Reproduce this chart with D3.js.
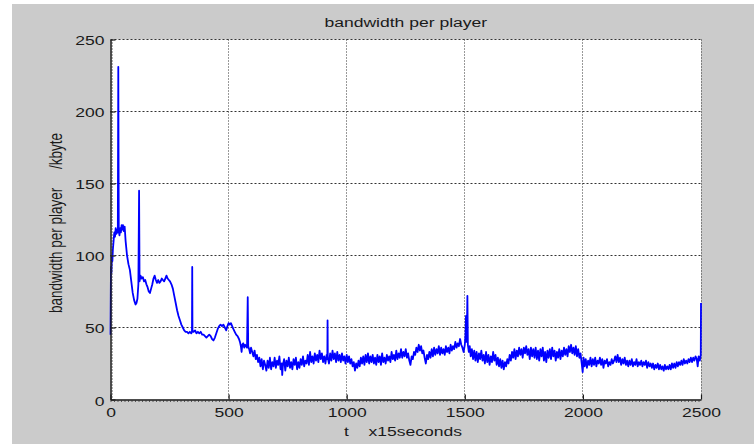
<!DOCTYPE html>
<html><head><meta charset="utf-8">
<script src="https://cdn.jsdelivr.net/npm/d3@7"></script>
<style>
body{margin:0;background:#fff}
svg{display:block}
text{font-family:"Liberation Sans",Arial,sans-serif;fill:#1a1a1a}
</style>
</head><body>
<svg id="c" width="754" height="444"></svg>
<script>
const chartTitle = "bandwidth per player";
const xLabel = "t    x15seconds";
const yLabel = "bandwidth per player     /kbyte";
const xTicks = [0, 500, 1000, 1500, 2000, 2500];
const yTicks = [0, 50, 100, 150, 200, 250];
// [time step (x15 s), bandwidth per player (kbyte)]
const series = [
[0,45],[2,92],[4,88],[6,100],[8,96],[10,104],[13,110],[16,116],[19,113],[22,119],[25,115],[28,118],[31,116],[33,231],[35,117],[38,114],[41,119],[44,116],[47,121],[50,118],[53,121],[56,117],[60,120],[64,110],[70,100],[76,94],[82,90],[88,82],[94,74],[100,69],[106,66],[110,67],[114,70],[118,80],[121,145],[123,82],[127,86],[132,84],[137,85],[142,82],[147,83],[152,80],[157,78],[162,75],[167,74],[172,77],[177,80],[182,84],[187,86],[192,83],[197,81],[202,83],[207,81],[212,82],[217,84],[222,83],[227,82],[232,84],[237,86],[242,84],[247,83],[252,82],[258,80],[264,77],[270,72],[276,67],[282,62],[288,58],[294,55],[300,52],[306,50],[312,48],[318,47],[324,47],[330,46],[336,47],[342,46],[345,47],[346,92],[347,48],[352,47],[358,48],[364,46],[370,47],[376,46],[382,47],[388,45],[394,45],[400,44],[406,43],[412,44],[418,45],[424,44],[430,42],[436,41],[442,43],[448,46],[454,49],[460,51],[466,52],[472,51],[478,52],[484,50],[490,48],[495,51],[500,53],[505,52],[510,53],[515,51],[520,49],[526,47],[532,45],[538,44],[544,42],[548,40],[552,37],[555,33],[558,38],[562,39],[566,36],[570,38],[574,37],[578,36],[581,71],[583,37],[587,35],[591,32],[595,36],
[600,33],[605,30],[610,34],[615,28],[620,31],[625,26],[630,29],[635,23],[640,28],[645,21],[650,27],[655,24],[660,20],[665,27],[670,22],[675,29],[680,21],[685,26],[690,23],[695,29],[700,22],[705,27],[710,24],[715,30],[720,21],[725,25],[727,17],[730,24],[735,28],[740,20],[745,27],[750,23],[755,29],[760,22],[765,26],[770,21],[775,28],[780,24],[785,29],[790,21],[795,26],[800,22],[805,28],[810,24],[815,30],[820,23],[825,27],[830,25],[835,31],[840,24],[845,33],[850,26],[855,30],[860,25],[865,32],[870,27],[875,31],[880,26],[885,34],[890,28],[895,32],[900,26],[905,30],[910,25],[915,31],[918,28],[919,55],[920,29],[925,25],[930,32],[935,27],[940,34],[945,28],[950,32],[955,26],[960,33],[965,27],[970,31],[975,26],[980,32],[985,27],[990,30],[995,25],[1000,31],
[1005,26],[1010,30],[1015,25],[1020,28],[1025,23],[1030,26],[1035,20],[1040,25],[1045,22],[1050,27],[1055,23],[1060,29],[1065,25],[1070,30],[1075,24],[1080,31],[1085,26],[1090,32],[1095,25],[1100,30],[1105,26],[1110,31],[1115,25],[1120,29],[1125,24],[1130,31],[1135,26],[1140,30],[1145,24],[1150,32],[1155,26],[1160,29],[1165,25],[1170,31],[1175,27],[1180,30],[1185,26],[1190,33],[1195,28],[1200,31],[1205,27],[1210,34],[1215,28],[1220,32],[1225,29],[1230,35],[1235,29],[1240,33],[1245,30],[1250,35],[1255,29],[1260,32],[1265,27],[1270,24],[1275,30],[1280,28],[1285,33],[1290,31],[1295,36],[1300,33],[1305,38],[1310,34],[1315,37],[1320,32],[1325,34],[1330,29],[1335,25],[1340,31],[1345,28],[1350,33],[1355,29],[1360,35],[1365,30],[1370,36],[1375,31],[1380,35],[1385,32],[1390,37],[1395,31],[1400,36],[1405,32],[1410,35],[1415,31],[1420,37],[1425,33],[1430,36],[1435,32],[1440,38],[1445,34],[1450,37],[1455,35],[1460,40],[1465,36],[1470,39],[1475,37],[1480,42],[1485,38],[1490,36],[1495,33],[1500,38],[1503,45],[1505,58],[1507,40],[1509,50],[1511,72],[1513,38],
[1517,33],[1521,37],[1525,30],[1530,35],[1535,28],[1540,34],[1545,27],[1550,33],[1555,26],[1560,32],[1565,28],[1570,34],[1575,27],[1580,31],[1585,25],[1590,33],[1595,26],[1600,31],[1605,24],[1610,30],[1615,26],[1620,33],[1625,27],[1630,31],[1635,24],[1640,29],[1645,23],[1650,28],[1655,22],[1660,27],[1665,21],[1670,26],[1675,23],[1680,28],[1685,25],[1690,31],[1695,27],[1700,33],[1705,29],[1710,35],[1715,28],[1720,34],[1725,30],[1730,36],[1735,31],[1740,35],[1745,29],[1750,36],[1755,32],[1760,37],[1765,31],[1770,35],[1775,28],[1780,36],[1785,30],[1790,35],[1795,29],[1800,36],[1805,28],[1810,34],[1815,27],[1820,35],[1825,30],[1830,36],[1835,27],[1840,33],[1845,26],[1850,34],[1855,29],[1860,35],[1865,28],[1870,36],[1875,30],[1880,34],[1885,27],[1890,33],[1895,29],[1900,35],[1905,28],[1910,34],[1915,30],[1920,36],[1925,31],[1930,35],[1935,30],[1940,37],[1945,33],[1950,38],[1955,32],[1960,36],[1965,31],[1970,37],[1975,30],[1980,35],[1985,29],[1990,32],[1995,25],[1999,19],
[2003,29],[2007,23],[2012,28],[2017,22],[2022,27],[2027,24],[2032,29],[2037,23],[2042,28],[2047,24],[2052,29],[2057,23],[2062,27],[2067,25],[2072,29],[2077,24],[2082,28],[2087,22],[2092,27],[2097,25],[2102,28],[2107,23],[2112,26],[2117,24],[2122,28],[2127,25],[2132,27],[2137,30],[2142,26],[2147,31],[2152,26],[2157,29],[2162,24],[2167,28],[2172,25],[2177,29],[2182,24],[2187,27],[2192,23],[2197,27],[2202,24],[2207,28],[2212,23],[2217,26],[2222,24],[2227,28],[2232,23],[2237,26],[2242,24],[2247,27],[2252,23],[2257,26],[2262,24],[2267,27],[2272,22],[2277,26],[2282,23],[2287,25],[2292,22],[2297,25],[2302,21],[2307,24],[2312,22],[2317,25],[2322,21],[2327,24],[2332,21],[2337,23],[2342,20],[2347,24],[2352,21],[2357,23],[2362,21],[2367,24],[2372,21],[2377,25],[2382,22],[2387,25],[2392,22],[2397,26],[2402,23],[2407,26],[2412,24],[2417,27],[2422,24],[2427,28],[2432,25],[2437,27],[2442,25],[2447,28],[2452,26],[2457,29],[2462,26],[2467,29],[2472,27],[2477,30],[2482,28],[2486,23],[2490,30],[2495,27],[2499,31],[2500,67]
];

const SX = 1.3; // horizontal stretch of the original picture
const svg = d3.select("#c");
const m = {l: 110.5, r: 701, t: 39.5, b: 399.5};
const x = d3.scaleLinear().domain([0, 2500]).range([m.l, m.r]);
const y = d3.scaleLinear().domain([0, 250]).range([m.b, m.t]);
const px = v => Math.floor(x(v)) + 0.5;

svg.append("rect").attr("x", 12).attr("y", 4).attr("width", 742).attr("height", 440).attr("fill", "#cbcbcb");
svg.append("rect").attr("x", m.l).attr("y", m.t).attr("width", m.r - m.l).attr("height", m.b - m.t).attr("fill", "#ffffff");

// dotted grid (including top and right box edges)
const grid = svg.append("g").attr("stroke", "#333333").attr("stroke-width", 1);
grid.selectAll("line.h").data(yTicks.filter(d => d > 0)).join("line")
  .attr("x1", m.l).attr("x2", m.r).attr("y1", d => y(d)).attr("y2", d => y(d))
  .attr("stroke-dasharray", "2,2");
grid.selectAll("line.v").data(xTicks.filter(d => d > 0)).join("line")
  .attr("y1", m.t).attr("y2", m.b).attr("x1", d => px(d)).attr("x2", d => px(d))
  .attr("stroke-dasharray", "1,2");

// data line
const line = d3.line().x(d => x(d[0])).y(d => y(d[1]));
svg.append("path").datum(series).attr("d", line)
  .attr("fill", "none").attr("stroke", "#0000ff").attr("stroke-width", 1.8).attr("stroke-linejoin", "round");

// axes
const xAxis = svg.append("g").attr("transform", `translate(0,${m.b})`)
  .call(d3.axisBottom(x).tickValues(xTicks).tickSize(-5).tickSizeOuter(0).tickPadding(8).tickFormat(d3.format("d")));
const yAxis = svg.append("g").attr("transform", `translate(${m.l},0)`)
  .call(d3.axisLeft(y).tickValues(yTicks).tickSize(-5).tickSizeOuter(0).tickPadding(4.6).tickFormat(d3.format("d")));
[xAxis, yAxis].forEach(a => {
  a.select(".domain").attr("stroke", "#1a1a1a").attr("stroke-width", 1.5);
  a.selectAll(".tick line").attr("stroke", "#1a1a1a").attr("stroke-width", 1.2);
  a.selectAll("text").attr("font-size", 13.5).attr("fill", "#1a1a1a")
    .attr("font-family", "'Liberation Sans', Arial, sans-serif");
});
xAxis.selectAll("text").attr("transform", `scale(${SX},1)`);
yAxis.selectAll("text").attr("transform", `scale(${SX},1)`).attr("dy", "0.36em");
yAxis.selectAll(".tick").filter(d => d === 0).select("text").attr("dy", "0.45em");

// ragged texture on the solid axes
svg.append("line").attr("x1", m.l + 1.5).attr("x2", m.l + 1.5).attr("y1", m.t).attr("y2", m.b)
  .attr("stroke", "#333").attr("stroke-width", 1.5).attr("stroke-dasharray", "1,2");
svg.append("line").attr("x1", m.l).attr("x2", m.r).attr("y1", m.b + 1.5).attr("y2", m.b + 1.5)
  .attr("stroke", "#333").attr("stroke-width", 1.5).attr("stroke-dasharray", "1,2.5");

// texts
svg.append("text").attr("transform", `translate(${(m.l + m.r) / 2},27) scale(${SX},1)`)
  .attr("text-anchor", "middle").attr("font-size", 13.5).text(chartTitle);
svg.append("text").attr("transform", `translate(403,436) scale(${SX},1)`)
  .attr("text-anchor", "middle").attr("font-size", 13.5).style("white-space", "pre").text(xLabel);
svg.append("text").attr("transform", `translate(62,223) rotate(-90) scale(1,${SX})`)
  .attr("text-anchor", "middle").attr("font-size", 13.5).style("white-space", "pre").text(yLabel);
</script>
</body></html>
